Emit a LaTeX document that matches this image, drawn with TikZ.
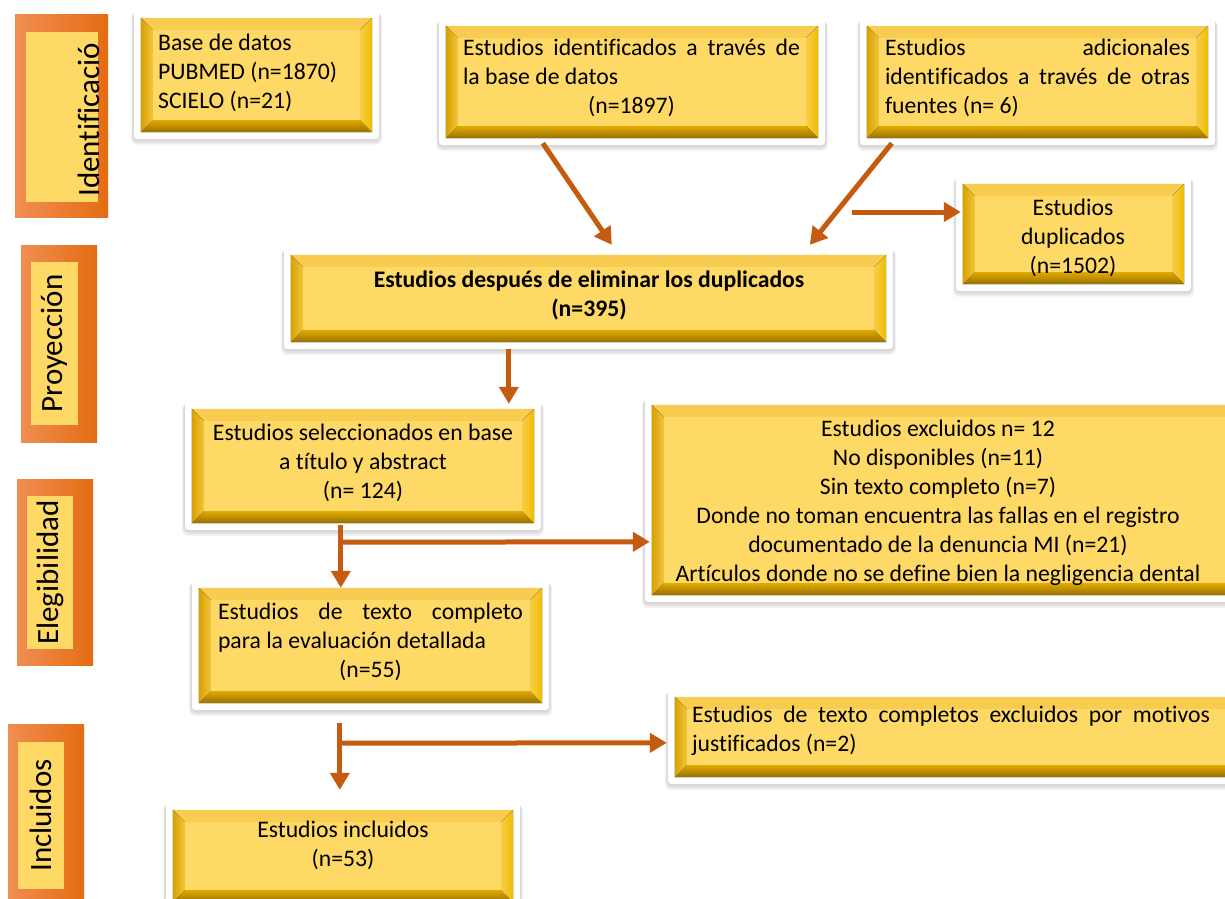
\documentclass[tikz,border=0pt]{standalone}
\usepackage{fontspec}
\setmainfont{Carlito}[Ligatures=NoCommon]
\usetikzlibrary{calc,fit,backgrounds,arrows.meta}
\definecolor{arrowc}{RGB}{197,90,17}
\definecolor{gInner}{RGB}{255,217,102}
\definecolor{gTop}{RGB}{247,204,80}
\definecolor{gBotA}{RGB}{225,170,0}
\definecolor{gBotB}{RGB}{150,112,0}
\definecolor{gLeftA}{RGB}{215,160,0}
\definecolor{gLeftB}{RGB}{242,196,60}
\definecolor{gRightA}{RGB}{248,205,70}
\definecolor{gRightB}{RGB}{240,188,0}
\definecolor{oL}{RGB}{240,142,82}
\definecolor{oR}{RGB}{228,108,18}
\tikzset{
  gbox/.style={rectangle, inner sep=0pt, draw=none},
  txt/.style={inner sep=0pt, font=\fontsize{23.7}{29}\selectfont, text=black, align=center},
  sideout/.style={rectangle, inner sep=0pt, draw=none, left color=oL, right color=oR},
  sidein/.style={rectangle, inner sep=0pt, draw=none, fill=gInner},
  sidetxt/.style={inner sep=0pt, rotate=90, font=\fontsize{31}{36}\selectfont, text=black},
  arr/.style={draw=arrowc, line width=5pt, -{Triangle[length=17pt,width=19pt]}},
}
\newcommand\myJust[2]{\makebox[#1][s]{#2}}
\newcommand\myLeft[2]{\makebox[#1][l]{#2}}
\newcommand\myCent[2]{\makebox[#1][c]{#2}}
\newcommand\gdeco[1]{%
\begin{pgfonlayer}{background}
\foreach \i in {1,...,5}{\fill[black, opacity=0.035, rounded corners=6pt] ($(#1.north west)+(-7-0.6*\i,-7+0.4*\i)$) rectangle ($(#1.south east)+(7+0.6*\i,7+1.2*\i)$);}
\fill[white, rounded corners=4pt] ($(#1.north west)+(-7,-7)$) rectangle ($(#1.south east)+(7,7)$);
\fill[gTop] (#1.north west) -- (#1.north east) -- ($(#1.north east)+(-12,12)$) -- ($(#1.north west)+(12,12)$) -- cycle;
\fill[top color=gBotA, bottom color=gBotB] (#1.south west) -- (#1.south east) -- ($(#1.south east)+(-12,-12)$) -- ($(#1.south west)+(12,-12)$) -- cycle;
\fill[left color=gLeftA, right color=gLeftB] (#1.north west) -- ($(#1.north west)+(12,12)$) -- ($(#1.south west)+(12,-12)$) -- (#1.south west) -- cycle;
\fill[left color=gRightA, right color=gRightB] (#1.north east) -- ($(#1.north east)+(-12,12)$) -- ($(#1.south east)+(-12,-12)$) -- (#1.south east) -- cycle;
\fill[gInner] ($(#1.north west)+(12,12)$) rectangle ($(#1.south east)+(-12,-12)$);
\end{pgfonlayer}}

\begin{document}
\begin{tikzpicture}[x=1pt,y=-1pt]
\useasboundingbox (0,0) rectangle (1225,898);
\begin{pgfonlayer}{background}\fill[white] (0,0) rectangle (1225,898);\end{pgfonlayer}
\clip (0,0) rectangle (1225,898);

% side labels
\node[sideout, fit={(15,14) (108,217)}] (s1) {};
\node[sidein, fit={(26,32) (98,202)}] (s1i) {};
\node[sidetxt, anchor=base west] (s1t) at (99.5,197) {Identificació};
\node[sideout, fit={(21,245) (97,442)}] (s2) {};
\node[sidein, fit={(31,262) (78,425)}] (s2i) {};
\node[sidetxt] (s2t) at (s2i.center) {Proyección};
\node[sideout, fit={(17,479) (93,665)}] (s3) {};
\node[sidein, fit={(27,496) (73,649)}] (s3i) {};
\node[sidetxt] (s3t) at (s3i.center) {Elegibilidad};
\node[sideout, fit={(8,724) (84,905)}] (s4) {};
\node[sidein, fit={(18,742) (64,889)}] (s4i) {};
\node[sidetxt] (s4t) at (s4i.center) {Incluidos};

% boxes
\node[gbox, fit={(141,18) (372,132)}] (b1) {};
\node[gbox, fit={(446,26) (818,138)}] (b2) {};
\node[gbox, fit={(867,26) (1208,138)}] (b3) {};
\node[gbox, fit={(963,184) (1184,284)}] (b4) {};
\node[gbox, fit={(291,255) (886,342)}] (b5) {};
\node[gbox, fit={(192,409) (534,523)}] (b6) {};
\node[gbox, fit={(652,405) (1240,595)}] (b7) {};
\node[gbox, fit={(199,588) (542,703)}] (b8) {};
\node[gbox, fit={(675,697) (1240,777)}] (b9) {};
\node[gbox, fit={(173,810) (513,902)}] (b10) {};
\gdeco{b1}\gdeco{b2}\gdeco{b3}\gdeco{b4}\gdeco{b5}
\gdeco{b6}\gdeco{b7}\gdeco{b8}\gdeco{b9}\gdeco{b10}

% texts
\node[txt, anchor=west, align=left] (t1) at (158,73) {Base de datos\\PUBMED (n=1870)\\SCIELO (n=21)};
\node[txt, align=left] (t2) at (631.5,78) {\myJust{337pt}{Estudios identificados a través de}\\\myLeft{337pt}{la base de datos}\\\myCent{337pt}{(n=1897)}};
\node[txt, align=left] (t3) at (1037.5,78) {\myJust{305pt}{Estudios adicionales}\\\myJust{305pt}{identificados a través de otras}\\\myLeft{305pt}{fuentes (n= 6)}};
\node[txt] (t4) at (1073,238) {Estudios\\duplicados\\(n=1502)};
\node[txt] (t5) at (589,295) {\textbf{Estudios después de eliminar los duplicados}\\\textbf{(n=395)}};
\node[txt] (t6) at (363,463) {Estudios seleccionados en base\\a título y abstract\\(n= 124)};
\node[txt] (t7) at (938,503) {Estudios excluidos n= 12\\No disponibles (n=11)\\Sin texto completo (n=7)\\Donde no toman encuentra las fallas en el registro\\documentado de la denuncia MI (n=21)\\Artículos donde no se define bien la negligencia dental};
\node[txt, align=left] (t8) at (370.5,642) {\myJust{305pt}{Estudios de texto completo}\\\myLeft{305pt}{para la evaluación detallada}\\\myCent{305pt}{(n=55)}};
\node[txt, align=left] (t9) at (951,731) {\myJust{518pt}{Estudios de texto completos excluidos por motivos}\\\myLeft{518pt}{justificados (n=2)}};
\node[txt] (t10) at (343,845) {Estudios incluidos\\(n=53)};

% connectors
\coordinate (j1) at ($(b6.south west)+(149,19)$);
\coordinate (j2) at ($(b8.south west)+(141,40)$);
\draw[arr] ($(b2.south west)+(97,5)$) -- ($(b5.north west)+(321,-10)$);
\draw[arr] ($(b3.south west)+(25,5)$) -- ($(b5.north west)+(519,-10)$);
\draw[arr] ($(b4.west)+(-111,-22)$) -- ($(b4.west)+(-2,-22)$);
\draw[arr] ($(b5.south west)+(218,7)$) -- ($(b6.north west)+(317,-5)$);
\draw[arr] ($(b6.south west)+(149,2)$) -- ($(b8.north west)+(142,0)$);
\draw[arr] (j1) -- ($(b7.north west)+(-2,137)$);
\draw[arr] ($(b8.south west)+(141,20)$) -- ($(b10.north west)+(167,-20)$);
\draw[arr] (j2) -- ($(b9.north west)+(-8,46)$);
\end{tikzpicture}
\end{document}
